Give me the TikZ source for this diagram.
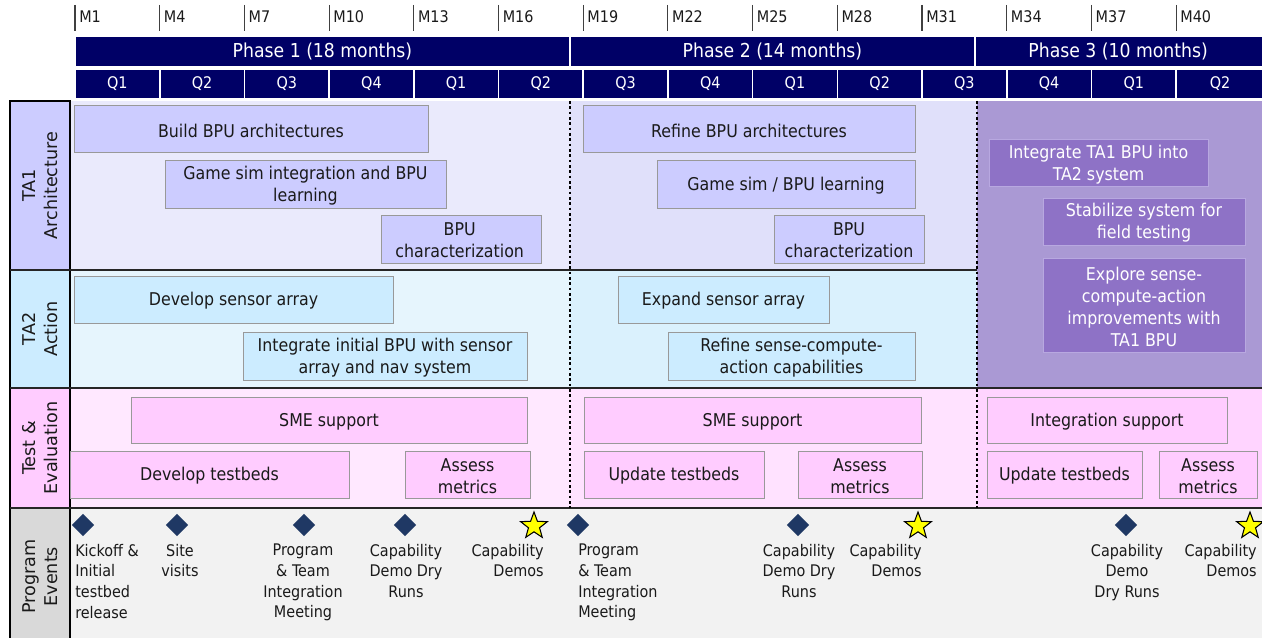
\documentclass[tikz,border=0pt]{standalone}
\usepackage{fontspec}
\IfFontExistsTF{DejaVu Sans Condensed}
  {\setmainfont{DejaVu Sans Condensed}}
  {\setmainfont{DejaVu Sans}[FakeStretch=0.88]}
\newfontfamily\sidefont{DejaVu Sans}
\usetikzlibrary{shapes.geometric,fit}

% palette
\definecolor{navy}{HTML}{000066}
\definecolor{textdark}{HTML}{1A1A1A}
\definecolor{boxline}{HTML}{999999}
\definecolor{taonebg}{HTML}{EAEAFC}
\definecolor{taonebgb}{HTML}{E0E0FA}
\definecolor{taonebox}{HTML}{CCCCFF}
\definecolor{tatwobg}{HTML}{E6F5FD}
\definecolor{tatwobgb}{HTML}{DAF1FD}
\definecolor{tatwobox}{HTML}{CCECFF}
\definecolor{tebg}{HTML}{FFE8FF}
\definecolor{tebgb}{HTML}{FFE2FF}
\definecolor{tebgc}{HTML}{FFD4FF}
\definecolor{tebox}{HTML}{FFCCFF}
\definecolor{pthreebg}{HTML}{AA99D4}
\definecolor{pthreebox}{HTML}{8E72C6}
\definecolor{pthreeline}{HTML}{B8A8E0}
\definecolor{eventbg}{HTML}{F2F2F2}
\definecolor{eventlab}{HTML}{D9D9D9}
\definecolor{diamondblue}{HTML}{1F3864}
\definecolor{staryellow}{HTML}{FFFF00}

\newcommand\taskfont{\fontsize{13.2}{16.5}\selectfont}
\newcommand\eventfont{\fontsize{12}{15.4}\selectfont}

\tikzset{
  task/.style={draw=boxline, line width=0.75pt, inner sep=0pt},
  tasktext/.style={inner sep=0pt, align=center, font=\taskfont, text=textdark, yshift=-1.2pt},
  pthreetext/.style={tasktext, text=white},
  taonetask/.style={task, fill=taonebox},
  tatwotask/.style={task, fill=tatwobox},
  tetask/.style={task, fill=tebox},
  pthreetask/.style={task, fill=pthreebox, draw=pthreeline},
  phasecell/.style={fill=navy, draw=white, line width=1.2pt, inner sep=0pt},
  phasetext/.style={inner sep=0pt, text=white, font=\fontsize{14.4}{16}\selectfont},
  qcell/.style={fill=navy, draw=white, line width=1.2pt, inner sep=0pt},
  qtext/.style={inner sep=0pt, text=white, font=\fontsize{12}{13}\selectfont},
  sidecell/.style={draw=black, line width=1pt, inner sep=0pt},
  sidetext/.style={rotate=90, align=center, text=textdark,
    font=\sidefont\fontsize{13.2}{16.5}\selectfont},
  rowline/.style={draw=black!85, line width=1.4pt},
  phasesplit/.style={draw=black, line width=2pt, dash pattern=on 2pt off 2pt},
  milestone/.style={diamond, fill=diamondblue, minimum size=17pt, inner sep=0pt},
  demo/.style={star, star points=5, star point ratio=2.4, fill=staryellow,
    draw=black, line width=0.8pt, minimum size=21pt, inner sep=0pt},
  evtext/.style={inner sep=0pt, font=\eventfont, text=textdark, anchor=north},
  monthlabel/.style={anchor=west, inner sep=0pt, text=textdark,
    font=\fontsize{12}{13}\selectfont},
}

\begin{document}
\begin{tikzpicture}[x=0.75pt, y=-0.75pt]
\useasboundingbox (0,0) rectangle (1262,638);

% month ticks
\foreach \i in {0,...,13}{
  \pgfmathsetmacro\xm{75+84.7*\i}
  \pgfmathtruncatemacro\mon{3*\i+1}
  \draw[black!75, line width=0.8pt] (\xm,5) -- (\xm,31);
  \node[monthlabel] (m\i) at (\xm+4,17) {M\mon};
}

% phase bar
\node[phasecell, fit={(75,36)(570,67)}] (ph1) {};
\node[phasecell, fit={(570,36)(975,67)}] (ph2) {};
\node[phasecell, fit={(975,36)(1264,67)}] (ph3) {};
\node[phasetext] (ph1t) at (ph1) {Phase 1 (18 months)};
\node[phasetext] (ph2t) at (ph2) {Phase 2 (14 months)};
\node[phasetext] (ph3t) at ([xshift=-1pt]ph3.center) {Phase 3 (10 months)};

% quarter bar
\foreach \q [count=\i from 0] in {Q1,Q2,Q3,Q4,Q1,Q2,Q3,Q4,Q1,Q2,Q3,Q4,Q1,Q2}{
  \pgfmathsetmacro\xl{75+84.7*\i}
  \pgfmathsetmacro\xr{\i==13 ? 1264 : 75+84.7*(\i+1)}
  \node[qcell, fit={(\xl,69)(\xr,99)}] (q\i) {};
  \node[qtext] (q\i t) at (q\i) {\q};
}

% swimlane backgrounds
\fill[taonebg]  (70,101) rectangle (570,270);
\fill[taonebgb] (570,101) rectangle (977,270);
\fill[tatwobg]  (70,270) rectangle (570,388);
\fill[tatwobgb] (570,270) rectangle (977,388);
\fill[pthreebg] (977,101) rectangle (1262,388);
\fill[tebg]  (70,388) rectangle (570,508);
\fill[tebgb] (570,388) rectangle (977,508);
\fill[tebgc] (977,388) rectangle (1262,508);
\fill[eventbg] (10,508) rectangle (1262,638);

% lane labels
\node[sidecell, fill=taonebox, fit={(10,101)(70,270)}] (lab1) {};
\node[sidecell, fill=tatwobox, fit={(10,270)(70,388)}] (lab2) {};
\node[sidecell, fill=tebox, fit={(10,388)(70,508)}] (lab3) {};
\node[sidecell, fill=eventlab, fit={(10,508)(70,640)}] (lab4) {};
\node[sidetext] (lab1t) at (lab1) {TA1\\Architecture};
\node[sidetext] (lab2t) at (lab2) {TA2\\Action};
\node[sidetext] (lab3t) at (lab3) {Test \&\\Evaluation};
\node[sidetext] (lab4t) at ([yshift=-2pt]lab4.center) {Program\\Events};

% lane separators
\draw[rowline] (10,270) -- (977,270);
\draw[rowline] (10,388) -- (1262,388);
\draw[rowline] (10,508) -- (1262,508);

% TA1 tasks
\node[taonetask, fit={(74,106)(428,153)}] (a1) {};
\node[taonetask, fit={(165,160)(446,208)}] (a2) {};
\node[taonetask, fit={(381,215)(541,263)}] (a3) {};
\node[taonetask, fit={(583,106)(915,153)}] (a4) {};
\node[taonetask, fit={(657,160)(915,208)}] (a5) {};
\node[taonetask, fit={(774,215)(924,263)}] (a6) {};
\node[tasktext] (a1t) at (a1) {Build BPU architectures};
\node[tasktext] (a2t) at (a2) {Game sim integration and BPU\\learning};
\node[tasktext] (a3t) at ([xshift=-1pt]a3.center) {BPU\\characterization};
\node[tasktext] (a4t) at (a4) {Refine BPU architectures};
\node[tasktext] (a5t) at (a5) {Game sim / BPU learning};
\node[tasktext] (a6t) at (a6) {BPU\\characterization};

% phase 3 integration tasks
\node[pthreetask, fit={(989,140)(1208,186)}] (c1) {};
\node[pthreetask, fit={(1043,198)(1245,245)}] (c2) {};
\node[pthreetask, fit={(1043,258)(1245,352)}] (c3) {};
\node[pthreetext] (c1t) at (c1) {Integrate TA1 BPU into\\TA2 system};
\node[pthreetext] (c2t) at (c2) {Stabilize system for\\field testing};
\node[pthreetext] (c3t) at (c3) {Explore sense-\\compute-action\\improvements with\\TA1 BPU};

% TA2 tasks
\node[tatwotask, fit={(74,276)(393,323)}] (b1) {};
\node[tatwotask, fit={(243,332)(527,380)}] (b2) {};
\node[tatwotask, fit={(618,276)(829,323)}] (b3) {};
\node[tatwotask, fit={(668,332)(915,380)}] (b4) {};
\node[tasktext] (b1t) at (b1) {Develop sensor array};
\node[tasktext] (b2t) at (b2) {Integrate initial BPU with sensor\\array and nav system};
\node[tasktext] (b3t) at (b3) {Expand sensor array};
\node[tasktext] (b4t) at (b4) {Refine sense-compute-\\action capabilities};

% test & evaluation tasks
\node[tetask, fit={(131,397)(527,443)}] (d1) {};
\node[tetask, fit={(70,451)(349,498)}] (d2) {};
\node[tetask, fit={(405,451)(530,498)}] (d3) {};
\node[tetask, fit={(584,397)(921,443)}] (d4) {};
\node[tetask, fit={(584,451)(764,498)}] (d5) {};
\node[tetask, fit={(798,451)(922,498)}] (d6) {};
\node[tetask, fit={(987,397)(1227,443)}] (d7) {};
\node[tetask, fit={(987,451)(1142,498)}] (d8) {};
\node[tetask, fit={(1159,451)(1257,498)}] (d9) {};
\node[tasktext] (d1t) at (d1) {SME support};
\node[tasktext] (d2t) at (d2) {Develop testbeds};
\node[tasktext] (d3t) at (d3) {Assess\\metrics};
\node[tasktext] (d4t) at (d4) {SME support};
\node[tasktext] (d5t) at (d5) {Update testbeds};
\node[tasktext] (d6t) at (d6) {Assess\\metrics};
\node[tasktext] (d7t) at (d7) {Integration support};
\node[tasktext] (d8t) at (d8) {Update testbeds};
\node[tasktext] (d9t) at (d9) {Assess\\metrics};

% phase boundaries
\draw[phasesplit] (570,101) -- (570,508);
\draw[phasesplit] (977,101) -- (977,508);

% program events
\node[milestone] (e1) at (83,525) {};
\node[milestone] (e2) at (177,525) {};
\node[milestone] (e3) at (304,525) {};
\node[milestone] (e4) at (405,525) {};
\node[demo] (s1) at (534,526) {};
\node[milestone] (e5) at (578,525) {};
\node[milestone] (e6) at (798,525) {};
\node[demo] (s2) at (918,526) {};
\node[milestone] (e7) at (1126,525) {};
\node[demo] (s3) at (1250,526) {};

\node[evtext, anchor=north west, align=left] (e1t) at (75,544) {Kickoff \&\\Initial\\testbed\\release};
\node[evtext, align=center] (e2t) at (180,544) {Site\\visits};
\node[evtext, align=center] (e3t) at (303,544) {Program\\\& Team\\Integration\\Meeting};
\node[evtext, align=center] (e4t) at (406,544) {Capability\\Demo Dry\\Runs};
\node[evtext, anchor=north east, align=right] (s1t) at (544,544) {Capability\\Demos};
\node[evtext, anchor=north west, align=left] (e5t) at (578,544) {Program\\\& Team\\Integration\\Meeting};
\node[evtext, align=center] (e6t) at (799,544) {Capability\\Demo Dry\\Runs};
\node[evtext, anchor=north east, align=right] (s2t) at (922,544) {Capability\\Demos};
\node[evtext, align=center] (e7t) at (1127,544) {Capability\\Demo\\Dry Runs};
\node[evtext, anchor=north east, align=right] (s3t) at (1257,544) {Capability\\Demos};
\end{tikzpicture}
\end{document}
